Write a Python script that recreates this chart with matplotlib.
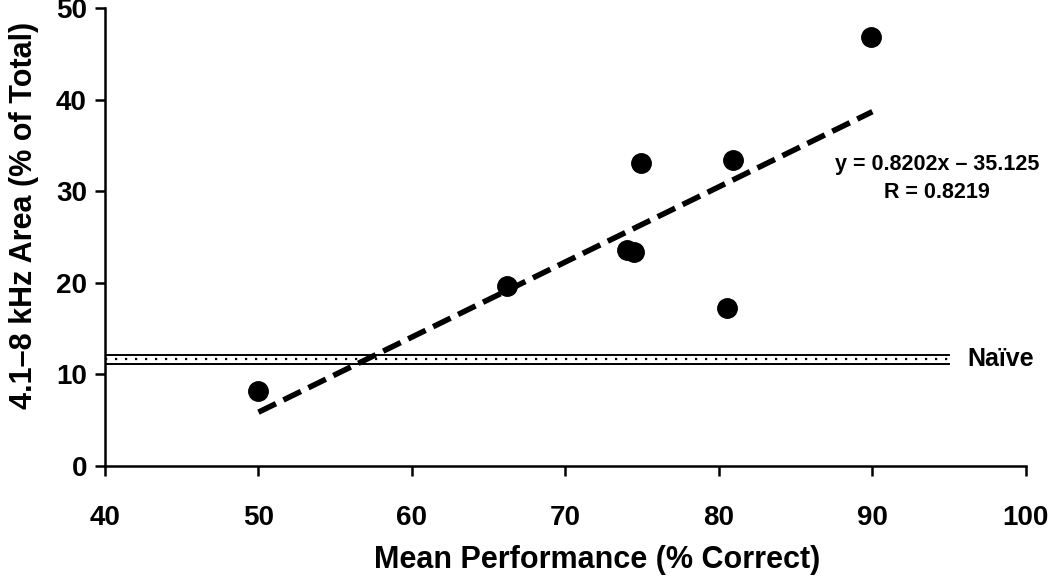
import matplotlib.pyplot as plt

# data
perf = [50.0, 66.2, 74.0, 74.5, 74.9, 80.5, 80.9, 89.9]
area = [8.2, 19.7, 23.6, 23.4, 33.1, 17.3, 33.4, 46.9]
slope = 0.8202
intercept = -35.125
fit_x = [50, 90]
naive_mean = 11.7
naive_upper = 12.1
naive_lower = 11.1
naive_x = [40, 95]

plt.rcParams['font.family'] = ['Liberation Sans', 'DejaVu Sans']
plt.rcParams['font.weight'] = 'bold'

fig = plt.figure(figsize=(10.5, 5.79), dpi=100)
ax = fig.add_axes([0.1, 0.195, 0.877, 0.791])

# naive band
ax.plot(naive_x, [naive_upper] * 2, color='black', lw=1.4)
ax.plot(naive_x, [naive_lower] * 2, color='black', lw=1.4)
ax.plot(naive_x, [naive_mean] * 2, color='black', lw=1.6, ls=(0, (1, 3.5)))
ax.text(96.2, naive_mean, 'Naïve', fontsize=18, fontweight='bold', va='center', ha='left')

# regression line
fit_y = [slope * x + intercept for x in fit_x]
ax.plot(fit_x, fit_y, color='black', lw=4, ls=(0, (3.5, 1.5)))

ax.plot(perf, area, 'o', color='black', markersize=14)

ax.text(94.2, 32.9, 'y = 0.8202x \u2013 35.125', fontsize=15.5, fontweight='bold', ha='center', va='center')
ax.text(94.2, 29.9, 'R = 0.8219', fontsize=15.5, fontweight='bold', ha='center', va='center')

ax.set_xlim(40, 100)
ax.set_ylim(0, 50)
ax.set_xticks(range(40, 101, 10))
ax.set_yticks(range(0, 51, 10))
ax.tick_params(direction='out', length=7, width=1.8, labelsize=20)
ax.tick_params(axis='x', pad=21)
ax.tick_params(axis='y', pad=6)
for lbl in ax.get_xticklabels() + ax.get_yticklabels():
    lbl.set_fontweight('bold')
ax.spines['top'].set_visible(False)
ax.spines['right'].set_visible(False)
ax.spines['left'].set_linewidth(1.8)
ax.spines['bottom'].set_linewidth(1.8)

ax.set_xlabel('Mean Performance (% Correct)', fontsize=22, fontweight='bold', labelpad=10)
ax.set_ylabel('4.1\u20138 kHz Area (% of Total)', fontsize=22, fontweight='bold', labelpad=12)
ax.xaxis.label.set_x(0.534)
ax.yaxis.label.set_y(0.548)

fig.savefig('out.png', dpi=100)
